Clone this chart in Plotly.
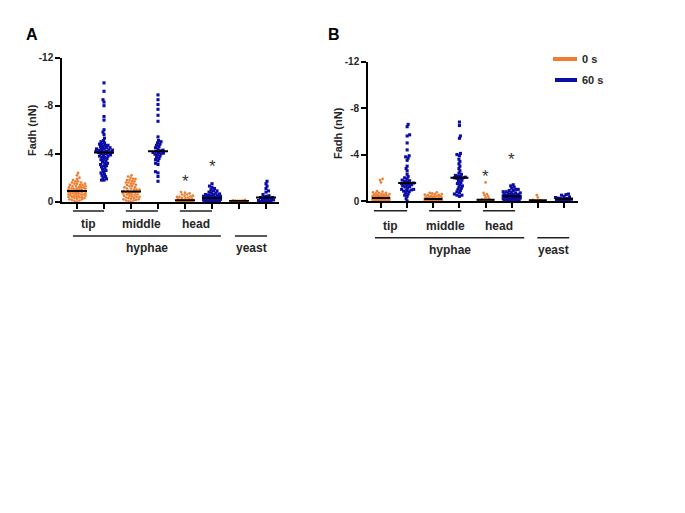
import numpy as np
import plotly.graph_objects as go

# ---------------- data (Fadh, nN) ----------------
groups = ["tip 0 s", "tip 60 s", "middle 0 s", "middle 60 s", "head 0 s", "head 60 s", "yeast 0 s", "yeast 60 s"]
series_names = ["0 s", "60 s"]
subgroup_labels = ["tip", "middle", "head"]
group_labels = ["hyphae", "yeast"]
y_ticks = [-12, -8, -4, 0]
y_ticktext = ["-12", "-8", "-4", "0"]

A_tip_0 = [-2.4, -2.2, -2.0, -1.9, -1.8, -1.7, -1.7, -1.6, -1.6, -1.5, -1.5, -1.5, -1.4, -1.4, -1.4, -1.3, -1.3, -1.3,
           -1.2, -1.2, -1.2, -1.2, -1.1, -1.1, -1.1, -1.1, -1.0, -1.0, -1.0, -1.0, -0.95, -0.9, -0.9, -0.9, -0.85, -0.8,
           -0.8, -0.8, -0.8, -0.75, -0.7, -0.7, -0.7, -0.65, -0.6, -0.6, -0.6, -0.55, -0.5, -0.5, -0.5, -0.45, -0.4,
           -0.4, -0.4, -0.35, -0.3, -0.3, -0.25, -0.2, -0.2, -0.15, -0.1, -0.05, 0.0]
A_tip_60 = [-9.9, -9.2, -8.5, -8.3, -8.0, -7.1, -6.8, -6.0, -5.8, -5.6, -5.3,
            -5.1, -5.0, -4.9, -4.8, -4.8, -4.7, -4.7, -4.6, -4.6, -4.5, -4.5, -4.4, -4.4, -4.4, -4.3, -4.3, -4.3,
            -4.2, -4.2, -4.2, -4.15, -4.1, -4.1, -4.05, -4.0, -4.0, -3.9, -3.9, -3.8, -3.8, -3.7, -3.7, -3.6, -3.5,
            -3.5, -3.4, -3.3, -3.2, -3.2, -3.1, -3.0, -3.0, -2.9, -2.8, -2.7, -2.6, -2.5, -2.4, -2.3, -2.2, -2.1,
            -2.0, -1.9, -1.8, -1.8]
A_mid_0 = [-2.2, -2.1, -2.0, -1.9, -1.9, -1.8, -1.8, -1.7, -1.7, -1.6, -1.6, -1.5, -1.5, -1.4, -1.4, -1.3, -1.3,
           -1.2, -1.2, -1.1, -1.1, -1.0, -1.0, -1.0, -0.9, -0.9, -0.85, -0.8, -0.8, -0.8, -0.75, -0.7, -0.7, -0.65,
           -0.6, -0.6, -0.55, -0.5, -0.5, -0.45, -0.4, -0.4, -0.35, -0.3, -0.3, -0.25, -0.2, -0.2, -0.15, -0.1,
           -0.1, -0.05, 0.0]
A_mid_60 = [-8.9, -8.5, -8.1, -7.7, -7.2, -6.7, -5.4, -5.1, -5.0, -4.9, -4.8, -4.7, -4.6, -4.5, -4.4, -4.3, -4.25,
            -4.2, -4.1, -4.1, -4.05, -4.0, -3.95, -3.9, -3.8, -3.7, -3.6, -3.5, -3.4, -3.2, -3.1, -2.5, -2.4, -2.1, -1.7]
A_head_0 = [-0.8, -0.75, -0.7, -0.6, -0.6, -0.5, -0.5, -0.45, -0.4, -0.4, -0.35, -0.3, -0.3, -0.25, -0.2, -0.2,
            -0.15, -0.12, -0.1, -0.1, -0.1, -0.08, -0.05, -0.05, -0.05, -0.03, -0.02, 0, 0, 0, 0, 0, 0, 0, 0]
A_head_60 = [-1.5, -1.3, -1.2, -1.1, -1.0, -0.9, -0.9, -0.8, -0.75, -0.7, -0.65, -0.6, -0.6, -0.55, -0.5, -0.5,
             -0.45, -0.45, -0.4, -0.4, -0.35, -0.35, -0.3, -0.3, -0.3, -0.28, -0.25, -0.25, -0.2, -0.2, -0.2, -0.15,
             -0.15, -0.12, -0.1, -0.1, -0.08, -0.05, -0.05, -0.03, -0.02, 0, 0, 0, 0]
A_yeast_0 = [-0.15, -0.12, -0.1, -0.1, -0.08, -0.07, -0.05, -0.05, -0.04, -0.03, -0.02, -0.01, 0]
A_yeast_60 = [-1.7, -1.5, -1.3, -1.1, -0.9, -0.8, -0.6, -0.5, -0.45, -0.4, -0.35, -0.35, -0.3, -0.25, -0.2, -0.2,
              -0.15, -0.1, -0.1, -0.05, -0.03, 0, 0]

B_tip_0 = [-1.9, -1.8, -1.6, -0.85, -0.8, -0.75, -0.7, -0.7, -0.65, -0.6, -0.6, -0.55, -0.55, -0.5, -0.5, -0.45,
           -0.45, -0.4, -0.4, -0.4, -0.35, -0.35, -0.35, -0.3, -0.3, -0.3, -0.28, -0.25, -0.25, -0.25, -0.22, -0.2,
           -0.2, -0.2, -0.18, -0.15, -0.15, -0.15, -0.12, -0.1, -0.1, -0.1, -0.08, -0.05, -0.05, -0.05, -0.03,
           -0.02, 0, 0, 0, 0, 0, 0, 0]
B_tip_60 = [-6.6, -6.4, -5.7, -5.6, -5.0, -4.4, -3.9, -3.8, -3.7, -3.5, -3.0, -2.8, -2.6, -2.3, -2.1, -2.0, -1.9,
            -1.8, -1.75, -1.7, -1.65, -1.55, -1.5, -1.5, -1.45, -1.4, -1.35, -1.3, -1.25, -1.2, -1.1, -1.0, -1.0,
            -0.95, -0.9, -0.85, -0.8, -0.7, -0.6, -0.5, -0.4, -0.2, 0.0]
B_mid_0 = [-0.75, -0.7, -0.65, -0.6, -0.6, -0.55, -0.5, -0.5, -0.45, -0.45, -0.4, -0.4, -0.35, -0.35, -0.3, -0.3,
           -0.3, -0.25, -0.25, -0.2, -0.2, -0.2, -0.18, -0.15, -0.15, -0.15, -0.12, -0.1, -0.1, -0.1, -0.08, -0.06,
           -0.05, -0.05, -0.03, -0.02, 0, 0, 0, 0, 0, 0, 0, 0, 0]
B_mid_60 = [-6.8, -6.5, -5.6, -5.4, -4.1, -4.0, -3.9, -3.6, -3.4, -3.2, -3.0, -2.8, -2.6, -2.4, -2.3, -2.2, -2.15,
            -2.1, -2.05, -2.0, -2.0, -1.95, -1.9, -1.8, -1.7, -1.6, -1.5, -1.4, -1.3, -1.2, -1.1, -1.0, -0.9, -0.8,
            -0.7, -0.6, -0.5, -0.5, -0.4]
B_head_0 = [-1.6, -0.7, -0.6, -0.5, -0.4, -0.3, -0.2, -0.15, -0.1, -0.08, -0.05, -0.03, -0.02, 0, 0, 0, 0]
B_head_60 = [-1.4, -1.3, -1.2, -1.1, -1.0, -1.0, -0.9, -0.9, -0.8, -0.8, -0.75, -0.7, -0.7, -0.65, -0.6, -0.6,
             -0.55, -0.55, -0.5, -0.5, -0.45, -0.45, -0.42, -0.4, -0.4, -0.38, -0.35, -0.35, -0.3, -0.3, -0.3,
             -0.25, -0.25, -0.2, -0.2, -0.2, -0.15, -0.15, -0.1, -0.1, -0.1, -0.05, -0.05, 0, 0, 0, 0]
B_yeast_0 = [-0.5, -0.3, -0.1, -0.05, 0, 0]
B_yeast_60 = [-0.6, -0.55, -0.5, -0.4, -0.35, -0.3, -0.25, -0.2, -0.2, -0.2, -0.15, -0.15, -0.1, -0.1, -0.05,
              -0.05, 0, 0]

A_data = [A_tip_0, A_tip_60, A_mid_0, A_mid_60, A_head_0, A_head_60, A_yeast_0, A_yeast_60]
B_data = [B_tip_0, B_tip_60, B_mid_0, B_mid_60, B_head_0, B_head_60, B_yeast_0, B_yeast_60]

# significance markers: (group index, height)
A_stars = [(4, -2.0), (5, -3.3)]
B_stars = [(4, -2.45), (5, -3.9)]

ORANGE = "#EE7D2E"
BLUE = "#0C0CA6"
colors = [ORANGE, BLUE] * 4

W, H = 685, 513
OFF = 8  # page body margin
def py(p):
    return 1 - (p - OFF) / H
def px(p):
    return (p - OFF) / W

# panel geometry (screen pixels)
panels = {
    "A": dict(x0=62, x1=279, cat0=77, step=27.0, ytop=57.7, ybot=201.7, data=A_data, stars=A_stars),
    "B": dict(x0=368, x1=578, cat0=381, step=26.14, ytop=61.7, ybot=201.0, data=B_data, stars=B_stars),
}


def swarm(vals, sx, sy, dmin=2.5, maxw=8.5, stepw=0.5):
    vals = np.asarray(vals, float)
    order = np.argsort(-vals, kind="stable")
    placed = []
    offs = np.zeros(len(vals))
    mags = np.arange(0, maxw + 1e-9, stepw)
    for n, i in enumerate(order):
        y = vals[i] * sy
        cands = []
        for m in mags:
            if m == 0:
                cands.append(0.0)
            else:
                s = 1 if n % 2 == 0 else -1
                cands += [s * m, -s * m]
        best, bestd = 0.0, -1
        chosen = None
        for c in cands:
            if placed:
                d = min(np.hypot(c - a, y - b) for a, b in placed)
            else:
                d = 1e9
            if d >= dmin:
                chosen = c
                break
            if d > bestd:
                bestd, best = d, c
        if chosen is None:
            chosen = best
        offs[i] = chosen
        placed.append((chosen, y))
    return offs / sx


fig = go.Figure()
FONT = "Liberation Sans, Arial, sans-serif"
TXT = "#262626"

def note(**kw):
    kw.setdefault("showarrow", False)
    kw.setdefault("xanchor", "center")
    kw.setdefault("yanchor", "middle")
    fig.add_annotation(**kw)

for k, (name, P) in enumerate(panels.items()):
    xa = "x" if k == 0 else "x2"
    ya = "y" if k == 0 else "y2"
    sx = P["step"]
    sy = (P["ybot"] - P["ytop"]) / 12.0
    half = (10.0 if k == 0 else 9.0) / sx
    for gi, vals in enumerate(P["data"]):
        offs = swarm(vals, sx, sy)
        fig.add_trace(go.Scatter(
            x=gi + offs, y=vals, mode="markers", xaxis=xa, yaxis=ya,
            marker=dict(color=colors[gi], size=2.7 if gi % 2 == 0 else 3.1,
                        symbol="circle" if gi % 2 == 0 else "square", line=dict(width=0)),
            cliponaxis=False, showlegend=False, hoverinfo="skip"))
    for gi, vals in enumerate(P["data"]):
        med = float(np.median(vals))
        fig.add_trace(go.Scatter(
            x=[gi - half, gi + half], y=[med, med], mode="lines", xaxis=xa, yaxis=ya,
            line=dict(color="black", width=2), cliponaxis=False, showlegend=False, hoverinfo="skip"))

    xr = [(P["x0"] - P["cat0"]) / sx, (P["x1"] - P["cat0"]) / sx]
    axis_common = dict(showline=True, linecolor="black", linewidth=1.6, ticks="outside", ticklen=5,
                       tickwidth=1.5, tickcolor="black", showgrid=False, zeroline=False, automargin=False)
    xkey = "xaxis" if k == 0 else "xaxis2"
    ykey = "yaxis" if k == 0 else "yaxis2"
    fig.update_layout(**{
        xkey: dict(domain=[px(P["x0"]), px(P["x1"])], range=xr, tickvals=list(range(8)),
                   showticklabels=False, anchor=ya, **axis_common),
        ykey: dict(domain=[py(P["ybot"]), py(P["ytop"])], range=[0, -12], tickvals=y_ticks,
                   ticktext=y_ticktext, anchor=xa,
                   tickfont=dict(family=FONT, size=10, color=TXT, weight="bold"), **axis_common),
    })

    # stars
    for gi, yv in P["stars"]:
        note(x=gi, y=yv, xref=xa, yref=ya, text="*", yshift=-4,
             font=dict(family=FONT, size=17, color="#333333"))

    # panel letter and y title
    note(x=px(32 if k == 0 else 334), y=py(35), xref="paper", yref="paper", text=name,
         font=dict(family=FONT, size=16, color="black", weight="bold"))
    note(x=px(32 if k == 0 else 338), y=py(130 if k == 0 else 133), xref="paper", yref="paper",
         text="Fadh (nN)", textangle=-90, font=dict(family=FONT, size=11, color=TXT, weight="bold"))

    # category underlines
    if k == 0:
        sub = [(-0.15, 1.0), (1.81, 3.0), (3.81, 5.0)]
        big = [(-0.15, 5.33), (5.85, 7.04)]
        yl1, yt1, yl2, yt2 = 211, 224, 236, 248
    else:
        sub = [(-0.27, 1.0), (1.84, 3.07), (3.9, 5.13)]
        big = [(-0.23, 5.48), (5.98, 7.2)]
        yl1, yt1, yl2, yt2 = 210.7, 225.5, 237.7, 250
    for (a, b), lab in zip(sub, subgroup_labels):
        fig.add_shape(type="line", xref=xa, yref="paper", x0=a, x1=b, y0=py(yl1), y1=py(yl1),
                      line=dict(color="#222222", width=1.5))
        note(x=(a + b) / 2, y=py(yt1), xref=xa, yref="paper", text=lab,
             font=dict(family=FONT, size=12, color=TXT, weight="bold"))
    for (a, b), lab in zip(big, group_labels):
        fig.add_shape(type="line", xref=xa, yref="paper", x0=a, x1=b, y0=py(yl2), y1=py(yl2),
                      line=dict(color="#222222", width=1.5))
        note(x=(a + b) / 2, y=py(yt2), xref=xa, yref="paper", text=lab,
             font=dict(family=FONT, size=12, color=TXT, weight="bold"))

# legend (drawn)
for (ycen, col, lab, xs) in [(59, ORANGE, series_names[0], 553), (80, BLUE, series_names[1], 555)]:
    fig.add_shape(type="line", xref="paper", yref="paper", x0=px(xs), x1=px(577), y0=py(ycen), y1=py(ycen),
                  line=dict(color=col, width=4))
    note(x=px(580), y=py(ycen), xref="paper", yref="paper", text=lab, xanchor="left",
         font=dict(family=FONT, size=11, color=TXT, weight="bold"))

fig.update_layout(width=W, height=H, margin=dict(l=0, r=0, t=0, b=0, autoexpand=False),
                  plot_bgcolor="white", paper_bgcolor="white", showlegend=False)

fig.write_html("out.html")
